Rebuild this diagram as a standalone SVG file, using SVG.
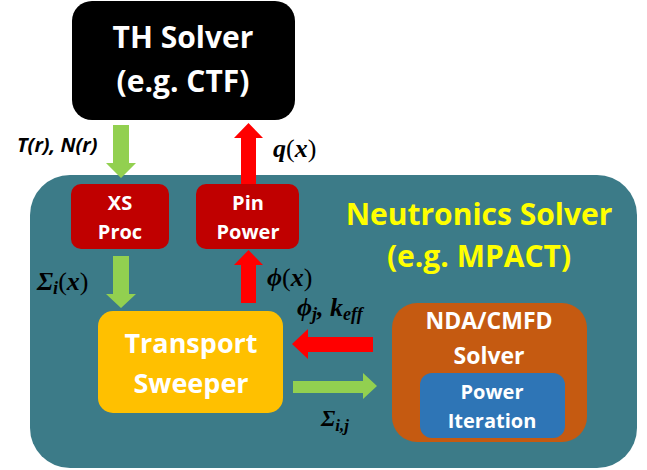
<svg xmlns="http://www.w3.org/2000/svg" width="647" height="470" viewBox="0 0 647 470">
<style>
.lbl{font-family:"Open Sans","Noto Sans","DejaVu Sans",sans-serif;font-weight:700;text-anchor:middle;fill:#fff}
.math{font-family:"Liberation Serif","DejaVu Serif",serif;font-weight:700;font-style:italic;fill:#000}
.up{font-style:normal;font-weight:400}
.grn{fill:#92D050}
.red{fill:#FF0000}
</style>
<rect width="647" height="470" fill="#fff"/>
<g id="neutronics">
<rect x="30" y="175" width="607" height="293" rx="40" fill="#3C7B88"/>
<text class="lbl" x="479" y="225" font-size="30" style="fill:#FFFF00">Neutronics Solver</text>
<text class="lbl" x="479" y="267" font-size="30" style="fill:#FFFF00">(e.g. MPACT)</text>
</g>
<g id="connectors">
<polygon class="grn" points="113,125 129,125 129,163 136,163 121,178 106,163 113,163"/>
<polygon class="grn" points="113,256 129,256 129,294 136,294 121,308 106,294 113,294"/>
<polygon class="red" points="241,184 256,184 256,138 263,138 248.5,123 234,138 241,138"/>
<polygon class="red" points="241,303 256,303 256,265 263,265 248.5,250 234,265 241,265"/>
<polygon class="red" points="373,337 373,352 308,352 308,359 292,344 308,329 308,337"/>
<polygon class="grn" points="293,381 363,381 363,373 377,386 363,399 363,393 293,393"/>
</g>
<g id="th-solver">
<rect x="72" y="1" width="223" height="119" rx="20" fill="#000"/>
<text class="lbl" x="183" y="48" font-size="30">TH Solver</text>
<text class="lbl" x="183" y="92" font-size="30">(e.g. CTF)</text>
</g>
<g id="xs-proc">
<rect x="71" y="184" width="98" height="65" rx="10" fill="#C00000"/>
<text class="lbl" x="120" y="210" font-size="20">XS</text>
<text class="lbl" x="120" y="239" font-size="20">Proc</text>
</g>
<g id="pin-power">
<rect x="196" y="184" width="103" height="65" rx="10" fill="#C00000"/>
<text class="lbl" x="248" y="210" font-size="20">Pin</text>
<text class="lbl" x="248" y="239" font-size="20">Power</text>
</g>
<g id="transport-sweeper">
<rect x="98" y="311" width="185" height="102" rx="15" fill="#FFC000"/>
<text class="lbl" x="191" y="353" font-size="27">Transport</text>
<text class="lbl" x="191" y="393" font-size="27">Sweeper</text>
</g>
<g id="nda-cmfd">
<rect x="392" y="303" width="195" height="139" rx="25" fill="#C55A11"/>
<text class="lbl" x="489" y="329" font-size="23">NDA/CMFD</text>
<text class="lbl" x="489" y="364" font-size="23">Solver</text>
</g>
<g id="power-iteration">
<rect x="420" y="373" width="145" height="65" rx="12" fill="#2E75B6"/>
<text class="lbl" x="492" y="399" font-size="20">Power</text>
<text class="lbl" x="492" y="428" font-size="20">Iteration</text>
</g>
<g id="labels">
<text x="17" y="152" font-family="Open Sans,Noto Sans,sans-serif" font-weight="700" font-style="italic" font-size="20" fill="#000">T(r), N(r)</text>
<text class="math" x="273" y="157" font-size="26">q<tspan class="up">(</tspan>x<tspan class="up">)</tspan></text>
<text class="math" x="37" y="290" font-size="26">Σ<tspan font-size="18" dy="4">i</tspan><tspan class="up" dy="-4">(</tspan>x<tspan class="up">)</tspan></text>
<text class="math" x="267" y="286" font-size="26">ϕ<tspan class="up">(</tspan>x<tspan class="up">)</tspan></text>
<text class="math" x="297" y="316" font-size="26">ϕ<tspan font-size="18" dy="4">j</tspan><tspan dy="-4">, k</tspan><tspan font-size="18" dy="4">eff</tspan></text>
<text class="math" x="321" y="426" font-size="23">Σ<tspan font-size="17" dy="5">i,j</tspan></text>
</g>
</svg>
